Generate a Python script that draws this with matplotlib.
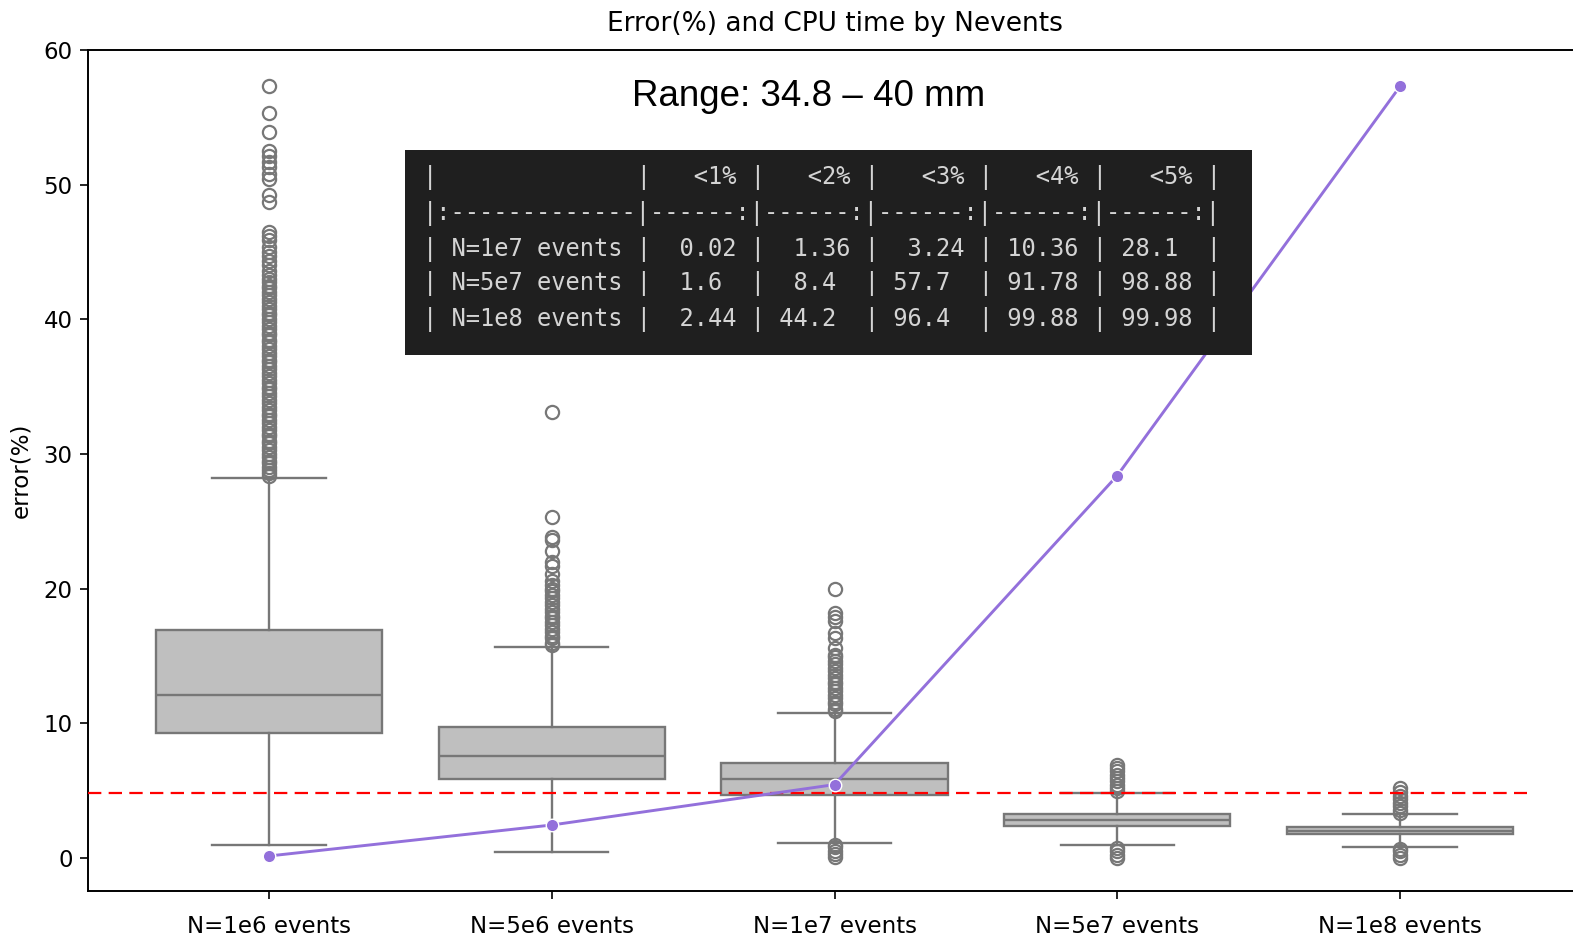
import matplotlib
matplotlib.use("Agg")
import matplotlib.pyplot as plt
from matplotlib.patches import Rectangle

# boxplot categories and summary stats
categories = ["N=1e6 events", "N=5e6 events", "N=1e7 events", "N=5e7 events", "N=1e8 events"]
q1 = [9.3, 5.9, 4.7, 2.4, 1.8]
medians = [12.1, 7.6, 5.9, 2.8, 2.0]
q3 = [16.9, 9.75, 7.05, 3.25, 2.3]
whis_lo = [0.97, 0.45, 1.1, 0.95, 0.8]
whis_hi = [28.2, 15.7, 10.8, 4.85, 3.25]

fliers_1e6 = [28.4, 28.6, 28.8, 29.0, 29.3, 29.5, 29.8, 30.0, 30.3, 30.5, 30.8, 31.0,
              31.3, 31.5, 31.8, 32.0, 32.3, 32.5, 32.8, 33.0, 33.3, 33.5, 33.8, 34.0,
              34.3, 34.5, 34.8, 35.0, 35.3, 35.5, 35.8, 36.0, 36.3, 36.5, 36.8, 37.0,
              37.3, 37.5, 37.8, 38.0, 38.3, 38.5, 38.8, 39.0, 39.3, 39.5, 39.8, 40.0,
              40.3, 40.5, 40.8, 41.0, 41.3, 41.5, 41.8, 42.0, 42.3, 42.5, 42.8, 43.0,
              43.3, 43.6, 44.0, 44.3, 44.7, 45.0, 45.4, 45.9, 46.2, 46.5,
              48.7, 49.2, 50.4, 50.8, 51.3, 51.7, 52.1, 52.5, 53.9, 55.3, 57.3]
fliers_5e6 = [15.8, 16.0, 16.3, 16.5, 16.8, 17.0, 17.3, 17.5, 17.8, 18.0, 18.3, 18.5,
              18.8, 19.0, 19.3, 19.5, 19.8, 20.0, 20.3, 20.6, 21.1, 21.7, 22.0, 22.8,
              23.6, 23.8, 25.3, 33.1]
fliers_1e7 = [0.05, 0.3, 0.55, 0.8, 1.0, 10.9, 11.1, 11.4, 11.6, 11.9, 12.1, 12.4, 12.6,
              12.9, 13.1, 13.4, 13.6, 13.9, 14.1, 14.4, 14.6, 14.9, 15.1, 15.6, 16.3,
              16.7, 17.6, 17.9, 18.2, 20.0]
fliers_5e7 = [0.0, 0.25, 0.5, 0.75, 4.95, 5.2, 5.45, 5.7, 5.95, 6.2, 6.45, 6.7, 6.9]
fliers_1e8 = [0.0, 0.25, 0.5, 0.7, 3.35, 3.6, 3.85, 4.1, 4.35, 4.6, 4.9, 5.2]
fliers = [fliers_1e6, fliers_5e6, fliers_1e7, fliers_5e7, fliers_1e8]

# purple line (CPU time) and threshold
cpu_time = [0.15, 2.45, 5.45, 28.4, 57.3]
threshold = 4.8

# markdown table shown on the dark panel
table_cols = ["<1%", "<2%", "<3%", "<4%", "<5%"]
table_rows = ["N=1e7 events", "N=5e7 events", "N=1e8 events"]
table_vals = [
    [0.02, 1.36, 3.24, 10.36, 28.1],
    [1.6, 8.4, 57.7, 91.78, 98.88],
    [2.44, 44.2, 96.4, 99.88, 99.98],
]
range_label = "Range: 34.8 \u2013 40 mm"


def markdown_lines():
    # decimal-aligned columns like tabulate does
    cols = []
    for j in range(len(table_cols)):
        strs = [f"{row[j]:g}" for row in table_vals]
        ints = max(len(s.split(".")[0]) for s in strs)
        fracs = max(len(s.split(".")[1]) if "." in s else 0 for s in strs)
        cells = []
        for s in strs:
            a, b = (s.split(".") + [""])[:2]
            cells.append(a.rjust(ints) + "." + b.ljust(fracs))
        cols.append(cells)
    lines = ["|" + " " * 14 + "|" + "".join(" " + c.rjust(5) + " |" for c in table_cols),
             "|:" + "-" * 13 + "|" + "------:|" * len(table_cols)]
    for i, name in enumerate(table_rows):
        lines.append("| " + name.ljust(12) + " |"
                     + "".join(" " + cols[j][i].rjust(5) + " |" for j in range(len(table_cols))))
    return lines


box_face = "#bfbfbf"
box_edge = "#777777"

fig = plt.figure(figsize=(15.73, 9.35), dpi=100)
ax = fig.add_axes([88 / 1573, 1 - 891 / 935, 1493 / 1573, 841 / 935])

stats = []
for i, name in enumerate(categories):
    stats.append({"label": name, "q1": q1[i], "med": medians[i], "q3": q3[i],
                  "whislo": whis_lo[i], "whishi": whis_hi[i], "fliers": fliers[i]})

ax.bxp(stats, positions=range(len(categories)), widths=0.8, capwidths=0.4,
       patch_artist=True, showfliers=True,
       boxprops=dict(facecolor=box_face, edgecolor=box_edge, linewidth=1.7),
       medianprops=dict(color=box_edge, linewidth=1.7),
       whiskerprops=dict(color=box_edge, linewidth=1.7),
       capprops=dict(color=box_edge, linewidth=1.7),
       flierprops=dict(marker="o", markerfacecolor="none", markeredgecolor=box_edge,
                       markersize=9.5, markeredgewidth=1.6))

ax.hlines(threshold, -0.64, 4.45, colors="red", linestyles="--", linewidth=1.6,
          zorder=4).set_dashes([(0, (6, 3.3))])

ax.plot(range(len(categories)), cpu_time, color="mediumpurple", linewidth=2.1,
        marker="o", markersize=9, markeredgecolor="white", markeredgewidth=1.0, zorder=5)

ax.set_xlim(-0.64, 4.64)
ax.set_ylim(-2.45, 60)
ax.set_yticks([0, 10, 20, 30, 40, 50, 60])
ax.set_xticks(range(len(categories)))
ax.set_xticklabels(categories)
ax.tick_params(labelsize=16.5, length=6, width=1.2, pad=5)
ax.tick_params(axis="x", pad=11)
for sp in ax.spines.values():
    sp.set_linewidth(1.4)
ax.set_ylabel("error(%)", fontsize=16.5, labelpad=8)
ax.set_title("Error(%) and CPU time by Nevents", fontsize=19, pad=14)

# range annotation
fig.text(809 / 1573, 1 - 96 / 935, range_label, family="Liberation Sans",
         fontsize=26.5, ha="center", va="center", zorder=6)

# dark table panel
fig.add_artist(Rectangle((405 / 1573, 1 - 355 / 935), 847 / 1573, 205 / 935,
                         transform=fig.transFigure, facecolor="#1f1f1f",
                         edgecolor="none", zorder=5))
line_y = [177, 213, 249, 284, 320]
for y, txt in zip(line_y, markdown_lines()):
    fig.text(423 / 1573, 1 - y / 935, txt, family="DejaVu Sans Mono", fontsize=17.15,
             color="#d4d4d4", ha="left", va="center", zorder=6)

fig.savefig("out.png", dpi=100)
